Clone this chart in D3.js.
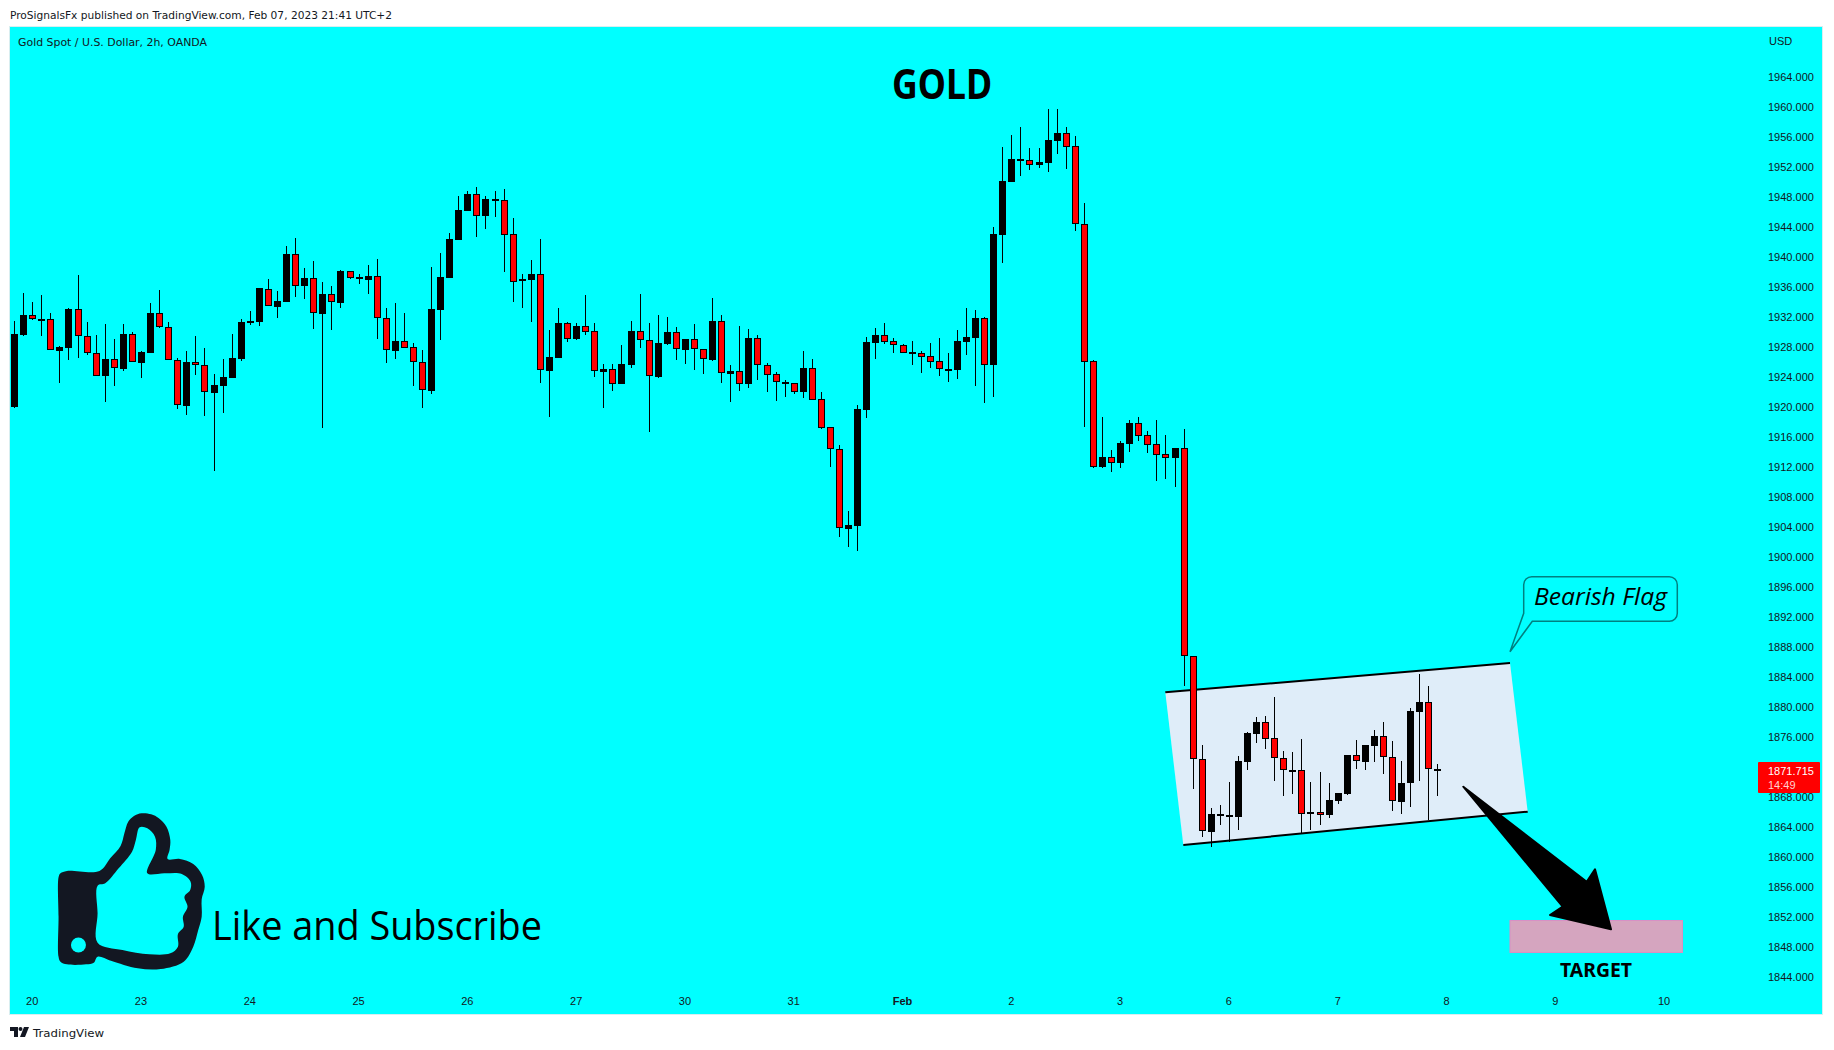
<!DOCTYPE html>
<html><head><meta charset="utf-8">
<script src="https://cdn.jsdelivr.net/npm/d3@7/dist/d3.min.js"></script>
<style>html,body{margin:0;padding:0;background:#fff}svg{display:block}text{fill:#131722}</style>
</head><body><div id="chart"></div>
<script>
const highs=[1931.5,1935.19,1934.03,1934.92,1932.52,1928.12,1933.19,1937.59,1931.32,1929.59,
1931.1,1929.1,1931.06,1929.99,1927.46,1933.86,1935.59,1931.32,1926.52,1927.46,
1929.46,1927.86,1924.39,1926.39,1929.72,1931.72,1932.79,1935.86,1937.06,1935.46,
1941.46,1942.53,1938.52,1939.46,1936.66,1936.12,1938.26,1938.12,1937.72,1938.92,
1939.72,1933.19,1933.86,1932.52,1928.52,1927.59,1938.66,1940.52,1943.2,1948.13,
1948.8,1949.33,1948.13,1948.8,1949.06,1945.2,1937.77,1939.63,1942.4,1930.26,
1933.19,1931.32,1931.19,1934.92,1931.19,1925.72,1925.72,1928.26,1931.46,1935.06,
1931.19,1932.26,1931.99,1930.66,1929.06,1931.06,1927.72,1934.52,1932.26,1925.59,
1930.79,1930.39,1929.59,1925.86,1924.66,1923.59,1923.19,1927.46,1926.39,1921.99,
1917.32,1914.92,1906.12,1920.26,1929.32,1930.52,1931.19,1929.19,1928.39,1928.79,
1927.46,1928.52,1929.19,1927.19,1930.26,1933.19,1932.92,1931.99,1943.99,1954.66,
1956.26,1957.32,1954.52,1954.52,1959.72,1959.72,1957.32,1956.12,1947.19,1926.26,
1918.66,1914.26,1915.46,1918.26,1918.66,1916.79,1918.26,1916.26,1914.52,1917.06,
1886.8,1874.93,1866.53,1866.93,1870.0,1873.46,1876.66,1878.66,1878.8,1881.37,
1874.13,1874.0,1875.73,1870.0,1871.33,1869.86,1868.53,1873.6,1875.6,1874.93,
1876.93,1878.0,1875.46,1872.8,1879.86,1884.4,1882.8,1872.4];
const lows=[1919.94,1929.54,1931.63,1929.54,1927.59,1923.28,1926.34,1926.61,1927.01,1924.12,
1920.74,1922.88,1924.88,1925.99,1923.94,1927.28,1930.61,1926.26,1919.81,1919.01,
1924.34,1918.88,1911.54,1919.28,1923.94,1926.21,1930.97,1930.88,1933.46,1931.94,
1934.08,1934.74,1934.48,1930.48,1917.28,1930.34,1933.28,1937.06,1936.48,1935.14,
1929.14,1925.94,1926.48,1927.94,1922.88,1919.94,1921.81,1929.01,1937.2,1942.3,
1946.2,1942.75,1943.82,1945.42,1938.08,1934.08,1933.28,1931.41,1923.28,1918.74,
1926.61,1928.74,1929.01,1929.68,1924.08,1919.94,1922.21,1923.14,1925.28,1927.94,
1916.74,1923.94,1928.34,1926.34,1925.81,1925.01,1924.48,1926.21,1923.28,1920.74,
1922.21,1922.61,1923.68,1922.08,1920.88,1921.41,1921.81,1921.28,1921.01,1917.14,
1912.08,1902.74,1901.32,1900.88,1918.61,1926.48,1928.48,1927.28,1927.28,1925.68,
1924.61,1925.28,1924.21,1923.41,1923.81,1927.01,1922.88,1920.61,1921.41,1939.28,
1950.08,1950.88,1951.68,1951.94,1951.41,1953.81,1951.81,1943.54,1917.41,1911.94,
1911.94,1911.41,1911.94,1914.08,1915.54,1913.94,1910.21,1910.48,1909.41,1882.88,
1869.15,1862.75,1861.42,1864.31,1862.08,1863.64,1871.64,1875.24,1874.44,1870.22,
1868.22,1868.48,1863.2,1863.64,1864.31,1865.28,1867.15,1868.35,1871.77,1871.64,
1872.71,1871.11,1866.22,1865.82,1866.75,1870.22,1864.93,1868.22];
const opens=[1920.08,1929.68,1932.26,1931.68,1931.72,1927.54,1927.94,1933.06,1929.46,1927.19,
1924.12,1926.39,1925.14,1929.72,1925.94,1927.28,1932.52,1930.66,1926.26,1920.21,
1925.99,1925.59,1921.94,1922.88,1923.94,1926.48,1931.28,1931.41,1935.81,1933.41,
1934.08,1940.39,1936.12,1937.19,1932.48,1935.06,1933.94,1938.12,1937.32,1937.01,
1937.46,1931.86,1927.54,1928.79,1927.99,1925.99,1922.21,1933.01,1937.28,1942.35,
1946.22,1948.4,1945.55,1947.55,1947.6,1943.06,1936.79,1937.01,1937.72,1924.88,
1926.61,1931.19,1929.14,1930.79,1930.12,1924.74,1925.06,1923.14,1925.68,1930.12,
1928.92,1924.08,1928.48,1929.99,1927.68,1929.06,1927.72,1926.34,1931.46,1924.48,
1924.79,1923.14,1929.19,1925.59,1924.39,1923.14,1923.19,1922.08,1925.19,1921.06,
1917.32,1914.39,1903.81,1904.21,1919.68,1928.61,1929.59,1928.79,1928.26,1927.14,
1927.19,1926.79,1926.12,1925.01,1925.01,1928.74,1929.28,1931.86,1925.68,1943.01,
1950.08,1952.88,1952.92,1952.34,1952.61,1955.54,1956.52,1954.79,1944.39,1926.12,
1912.08,1913.32,1912.61,1915.14,1917.86,1916.26,1915.06,1913.72,1913.28,1914.52,
1886.8,1873.06,1863.42,1865.55,1865.42,1865.42,1872.75,1876.48,1878.0,1875.86,
1873.2,1871.55,1871.6,1865.82,1866.0,1865.68,1867.55,1868.48,1873.6,1872.75,
1874.88,1876.13,1873.33,1867.42,1869.86,1879.42,1880.66,1871.55];
const closes=[1929.72,1932.26,1931.72,1931.77,1927.59,1927.99,1933.06,1929.46,1927.19,1924.12,
1926.39,1925.19,1929.72,1925.99,1927.32,1932.52,1930.66,1926.26,1920.26,1925.99,
1925.59,1921.99,1922.92,1923.99,1926.52,1931.32,1931.46,1935.86,1933.46,1934.12,
1940.39,1936.12,1937.19,1932.52,1935.06,1933.99,1938.12,1937.28,1937.06,1937.46,
1931.86,1927.59,1928.79,1927.94,1925.99,1922.26,1933.06,1937.32,1942.4,1946.26,
1948.4,1945.55,1947.73,1947.73,1943.02,1936.75,1937.06,1937.72,1924.92,1926.66,
1931.19,1929.14,1930.79,1930.08,1924.79,1925.06,1923.14,1925.72,1930.12,1928.92,
1924.12,1928.52,1929.99,1927.72,1929.06,1927.72,1926.39,1931.46,1924.52,1924.79,
1923.14,1929.19,1925.59,1924.34,1923.32,1923.32,1922.08,1925.19,1921.01,1917.28,
1914.39,1903.86,1904.26,1919.72,1928.66,1929.59,1928.74,1928.26,1927.28,1927.32,
1926.74,1926.08,1925.06,1925.1,1928.79,1929.32,1931.86,1925.68,1943.06,1950.12,
1953.06,1953.06,1952.34,1952.66,1955.59,1956.52,1954.74,1944.39,1926.08,1912.08,
1913.32,1912.61,1915.19,1917.86,1916.21,1915.01,1913.68,1913.28,1914.52,1886.8,
1873.06,1863.46,1865.73,1865.73,1865.6,1872.8,1876.53,1878.0,1875.82,1873.2,
1871.6,1871.64,1865.82,1866.0,1865.68,1867.6,1868.53,1873.6,1872.8,1874.93,
1876.13,1873.33,1867.46,1869.86,1879.46,1880.66,1871.73,1871.73];
const priceTicks=[1964,1960,1956,1952,1948,1944,1940,1936,1932,1928,1924,1920,1916,1912,1908,1904,1900,1896,1892,1888,1884,1880,1876,1872,1868,1864,1860,1856,1852,1848,1844].filter(d=>d!==1872);
const timeTickIndex=[2,14,26,38,50,62,74,86,98,110,122,134,146,158,170,182];
const timeTickLabels=["20","23","24","25","26","27","30","31","Feb","2","3","6","7","8","9","10"];
const lastPrice=1871.715, lastCountdown="14:49";

const W=1834,H=1050;
const upColor="#000000",downColor="#ff0000",bg="#00ffff",ink="#131722";
const uiFont="'Liberation Sans',sans-serif";
const svg=d3.select("#chart").append("svg").attr("width",W).attr("height",H);
const x=d3.scaleLinear().domain([0,157]).range([14.56,14.56+9.066*157]);
const y=d3.scaleLinear().domain([1844,1964]).range([977.3,77.3]);

svg.append("rect").attr("x",9.5).attr("y",26.5).attr("width",1813).attr("height",988).attr("fill",bg).attr("stroke","#d8eef0");

// header
svg.append("text").attr("x",10).attr("y",19).attr("font-family","'DejaVu Sans',sans-serif").attr("font-size",10.5).attr("textLength",382).attr("lengthAdjust","spacingAndGlyphs").text("ProSignalsFx published on TradingView.com, Feb 07, 2023 21:41 UTC+2");
svg.append("text").attr("x",18).attr("y",46).attr("font-family","'DejaVu Sans',sans-serif").attr("font-size",10).attr("textLength",189).attr("lengthAdjust","spacingAndGlyphs").text("Gold Spot / U.S. Dollar, 2h, OANDA");
svg.append("text").attr("x",1769).attr("y",45).attr("font-family",uiFont).attr("font-size",11).text("USD");

// flag
const flagFill=[[1165.3,692.3],[1510,663],[1527.7,811.7],[1183.3,845]];
svg.append("polygon").attr("points",flagFill.join(" ")).attr("fill","#dfedf9");
svg.append("line").attr("x1",1165.3).attr("y1",692.3).attr("x2",1510).attr("y2",663).attr("stroke","#000").attr("stroke-width",2);
svg.append("line").attr("x1",1183.3).attr("y1",845).attr("x2",1527.7).attr("y2",811.7).attr("stroke","#000").attr("stroke-width",2);

// candles
const candles=opens.map((o,i)=>({i,o,h:highs[i],l:lows[i],c:closes[i]}));
const px=d=>Math.floor(x(d.i));
const g=svg.append("g").attr("shape-rendering","crispEdges");
const sel=g.selectAll("g").data(candles).join("g");
sel.append("rect").attr("x",px).attr("width",1)
  .attr("y",d=>Math.round(y(d.h))).attr("height",d=>Math.max(1,Math.round(y(d.l))-Math.round(y(d.h)))).attr("fill","#000");
const bTop=d=>Math.round(y(Math.max(d.o,d.c)));
const bH=d=>Math.max(2,Math.round(y(Math.min(d.o,d.c)))-bTop(d));
sel.append("rect").attr("x",d=>px(d)-3).attr("width",7).attr("y",bTop).attr("height",bH).attr("fill","#000");
sel.filter(d=>d.c<d.o&&bH(d)>2).append("rect").attr("x",d=>px(d)-2).attr("width",5).attr("y",d=>bTop(d)+1).attr("height",d=>bH(d)-2).attr("fill",downColor);

// axes
const yAxis=d3.axisRight(y).tickValues(priceTicks).tickSize(0).tickPadding(0).tickFormat(d3.format(".3f"));
const ya=svg.append("g").attr("transform","translate(1768,0)").call(yAxis);
ya.select(".domain").remove();
ya.selectAll("text").attr("font-family",uiFont).attr("font-size",11).attr("fill",ink);
const xAxis=d3.axisBottom(x).tickValues(timeTickIndex).tickSize(0).tickPadding(0).tickFormat((d,i)=>timeTickLabels[i]);
const xa=svg.append("g").attr("transform","translate(-1,1000.5)").call(xAxis);
xa.select(".domain").remove();
xa.selectAll("text").attr("font-family",uiFont).attr("font-size",11).attr("fill",ink).attr("dy","0.4em")
  .attr("font-weight",d=>d===98?"bold":null);

// last price label
svg.append("rect").attr("x",1758).attr("y",762).attr("width",62).attr("height",31).attr("rx",1).attr("fill",downColor);
svg.append("text").attr("x",1768).attr("y",775).attr("font-family",uiFont).attr("font-size",11).style("fill","#fff").text(d3.format(".3f")(lastPrice));
svg.append("text").attr("x",1768).attr("y",789).attr("font-family",uiFont).attr("font-size",11).style("fill","#ffd0d0").text(lastCountdown);

// title
svg.append("text").attr("x",892).attr("y",99.3).attr("font-family","'Noto Sans',sans-serif").attr("font-weight",700).attr("font-size",41).style("fill","#000").attr("textLength",100).attr("lengthAdjust","spacingAndGlyphs").text("GOLD");

// target
svg.append("rect").attr("x",1510).attr("y",920.5).attr("width",172.5).attr("height",32).attr("fill","#d5a5bf").attr("stroke","#d890c4");
svg.append("text").attr("x",1560).attr("y",977).attr("font-family","'Noto Sans',sans-serif").attr("font-weight",700).attr("font-size",19).style("fill","#000").attr("textLength",72).attr("lengthAdjust","spacingAndGlyphs").text("TARGET");

// arrow
const arrow=[[1463.3,786.7],[1586.7,881.7],[1595,869.3],[1611,929.3],[1550,915],[1562.7,906.7]];
svg.append("polygon").attr("points",arrow.join(" ")).attr("fill","#000").attr("stroke","#000").attr("stroke-width",2).attr("stroke-linejoin","round");

// callout
const callout="M1532.3 621.3 H1669.3 A8 8 0 0 0 1677.3 613.3 V584.7 A8 8 0 0 0 1669.3 576.7 H1531.7 A8 8 0 0 0 1523.7 584.7 V613.3 L1510 651.7 Z";
svg.append("path").attr("d",callout).attr("fill",bg).attr("stroke","#008080").attr("stroke-width",1.5);
svg.append("text").attr("x",1534).attr("y",605).attr("font-family","'Open Sans',sans-serif").attr("font-style","italic").attr("font-size",24).style("fill","#000").attr("textLength",133).attr("lengthAdjust","spacingAndGlyphs").text("Bearish Flag");

// thumb
const outer=[[153,262],[158,250],[175,243],[260,243],[288,205],[315,168],[325,130],[335,95],[350,78],[370,70],[395,73],[415,85],[435,110],[445,150],[443,180],[438,207],[470,207],[505,222],[528,255],[535,290],[527,328],[527,380],[518,420],[505,470],[480,515],[420,537],[360,535],[290,512],[255,500],[245,518],[225,523],[175,523],[158,515],[153,500],[153,380]];
const inner=[[255,287],[275,280],[310,235],[345,185],[355,150],[365,112],[385,115],[405,140],[407,180],[385,250],[430,250],[475,252],[498,275],[497,300],[482,320],[490,350],[478,380],[480,410],[465,432],[465,470],[445,490],[390,493],[320,480],[255,458],[255,370]];
const hx=v=>v/2.613, hy=v=>790+v/3;
const thumbLine=d3.line().x(d=>hx(d[0])).y(d=>hy(d[1])).curve(d3.curveCatmullRomClosed.alpha(0.5));
const hole=d3.arc()({innerRadius:0,outerRadius:7.5,startAngle:0,endAngle:2*Math.PI});
svg.append("path").attr("d",thumbLine(outer)+thumbLine(inner)).attr("fill",ink).attr("fill-rule","evenodd");
svg.append("path").attr("d",hole).attr("transform",`translate(${hx(205)},${hy(465)})`).attr("fill",bg);
svg.append("text").attr("x",212).attr("y",940).attr("font-family","'Open Sans',sans-serif").attr("font-size",40).style("fill","#000").attr("textLength",330).attr("lengthAdjust","spacingAndGlyphs").text("Like and Subscribe");

// footer
svg.append("path").attr("d","M10 1027H18V1037H14V1031H10Z M29 1027L25 1037H20L24 1027Z").attr("fill",ink);
svg.append("circle").attr("cx",20.5).attr("cy",1029).attr("r",2).attr("fill",ink);
svg.append("text").attr("x",33).attr("y",1037).attr("font-family","'DejaVu Sans',sans-serif").attr("font-size",11).attr("textLength",71).attr("lengthAdjust","spacingAndGlyphs").text("TradingView");
</script></body></html>
